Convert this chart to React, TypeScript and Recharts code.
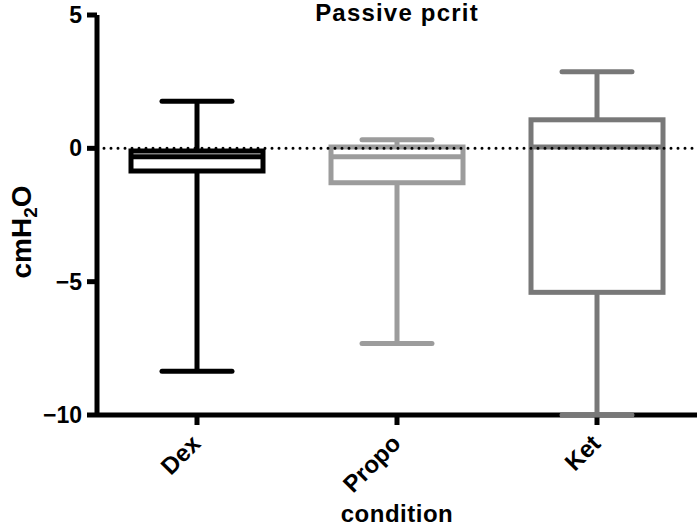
import React from 'react';
import { ComposedChart, Bar, XAxis, YAxis, ReferenceLine, Label, Customized } from 'recharts';

const categories = ['Dex', 'Propo', 'Ket'];
const whiskerLow = [-8.36, -7.32, -10];
const q1 = [-0.85, -1.29, -5.4];
const median = [-0.32, -0.32, 0.05];
const q3 = [-0.1, 0.05, 1.07];
const whiskerHigh = [1.77, 0.32, 2.87];
const colors = ['#000000', '#9c9c9c', '#787878'];
const yTicks = [-10, -5, 0, 5];

const data = categories.map((c, i) => ({
  condition: c,
  range: [whiskerLow[i], whiskerHigh[i]],
  lo: whiskerLow[i],
  q1: q1[i],
  med: median[i],
  q3: q3[i],
  hi: whiskerHigh[i],
  color: colors[i],
}));

const FONT = '"Liberation Sans", Arial, Helvetica, sans-serif';

const BoxShape = (props: any) => {
  const { x, y, width, height, payload } = props;
  const top = Math.min(y, y + height);
  const bot = Math.max(y, y + height);
  const { lo, hi, color } = payload;
  const py = (v: number) => top + ((hi - v) / (hi - lo)) * (bot - top);
  const cx = x + width / 2;
  const capHalf = width * 0.265;
  const sw = 5;
  const yq1 = py(payload.q1);
  const yq3 = py(payload.q3);
  const ym = py(payload.med);
  return (
    <g>
      <line x1={cx} x2={cx} y1={py(hi)} y2={yq3} stroke={color} strokeWidth={sw} />
      <line x1={cx} x2={cx} y1={yq1} y2={py(lo)} stroke={color} strokeWidth={sw} />
      <line x1={cx - capHalf} x2={cx + capHalf} y1={py(hi)} y2={py(hi)} stroke={color} strokeWidth={sw} strokeLinecap="round" />
      <line x1={cx - capHalf} x2={cx + capHalf} y1={py(lo)} y2={py(lo)} stroke={color} strokeWidth={sw} strokeLinecap="round" />
      <rect x={x} y={yq3} width={width} height={yq1 - yq3} fill="none" stroke={color} strokeWidth={sw} />
      <line x1={x} x2={x + width} y1={ym} y2={ym} stroke={color} strokeWidth={sw} />
    </g>
  );
};

const XTick = (props: any) => {
  const { x, y, payload } = props;
  const ax = x + 5;
  const ay = y + 18;
  return (
    <text x={ax} y={ay} transform={`rotate(-45, ${ax}, ${ay})`} textAnchor="end" fontSize={24} fontWeight="bold" fill="#000" fontFamily={FONT}>
      {payload.value}
    </text>
  );
};

const YLabel = (props: any) => {
  const vb = props.viewBox || {};
  const lx = 31;
  const ly = (vb.y ?? 15) + (vb.height ?? 400) / 2 + 17;
  return (
    <text x={lx} y={ly} transform={`rotate(-90, ${lx}, ${ly})`} textAnchor="middle" fontSize={28} fontWeight="bold" fill="#000" fontFamily={FONT}>
      cmH<tspan dy={6} fontSize={19}>2</tspan><tspan dy={-6}>O</tspan>
    </text>
  );
};

const XLabel = (props: any) => {
  const vb = props.viewBox || {};
  const lx = (vb.x ?? 97) + (vb.width ?? 600) / 2;
  const ly = (vb.y ?? 415) + 107;
  return (
    <text x={lx} y={ly} textAnchor="middle" fontSize={24} fontWeight="bold" fill="#000" fontFamily={FONT} letterSpacing={0.5}>
      condition
    </text>
  );
};

const Title = (props: any) => {
  const ox = props.offset?.left ?? 97;
  const w = props.offset?.width ?? 600;
  return (
    <text x={ox + w / 2} y={21} textAnchor="middle" fontSize={24} fontWeight="bold" fill="#000" fontFamily={FONT} letterSpacing={1.2}>
      Passive pcrit
    </text>
  );
};

export default function App() {
  return (
    <div style={{ position: 'absolute', left: 0, top: 0, width: 697, height: 528, background: '#fff' }}>
      <ComposedChart width={697} height={528} data={data} margin={{ top: 15, right: 0, bottom: 0, left: 0 }} style={{ fontFamily: FONT }}>
        <XAxis
          dataKey="condition"
          type="category"
          height={113}
          tick={<XTick />}
          tickSize={10}
          tickLine={{ stroke: '#000', strokeWidth: 5 }}
          axisLine={{ stroke: '#000', strokeWidth: 5 }}
          interval={0}
        >
          <Label content={<XLabel />} />
        </XAxis>
        <YAxis
          type="number"
          domain={[-10, 5]}
          ticks={yTicks}
          width={97}
          tickSize={10}
          tickMargin={5}
          tickLine={{ stroke: '#000', strokeWidth: 5 }}
          axisLine={{ stroke: '#000', strokeWidth: 5 }}
          tick={{ fontSize: 23, fontWeight: 'bold', fill: '#000', fontFamily: FONT }}
          tickFormatter={(v: number) => String(v).replace('-', '\u2212')}
        >
          <Label content={<YLabel />} />
        </YAxis>
        <Bar dataKey="range" barSize={132} shape={<BoxShape />} isAnimationActive={false} {...({ zIndex: 600 } as any)} />
        <ReferenceLine y={0} stroke="#000" strokeWidth={3} strokeDasharray="0 7" strokeLinecap="round" {...({ zIndex: 700 } as any)} />
        <Customized component={<Title />} />
      </ComposedChart>
    </div>
  );
}
